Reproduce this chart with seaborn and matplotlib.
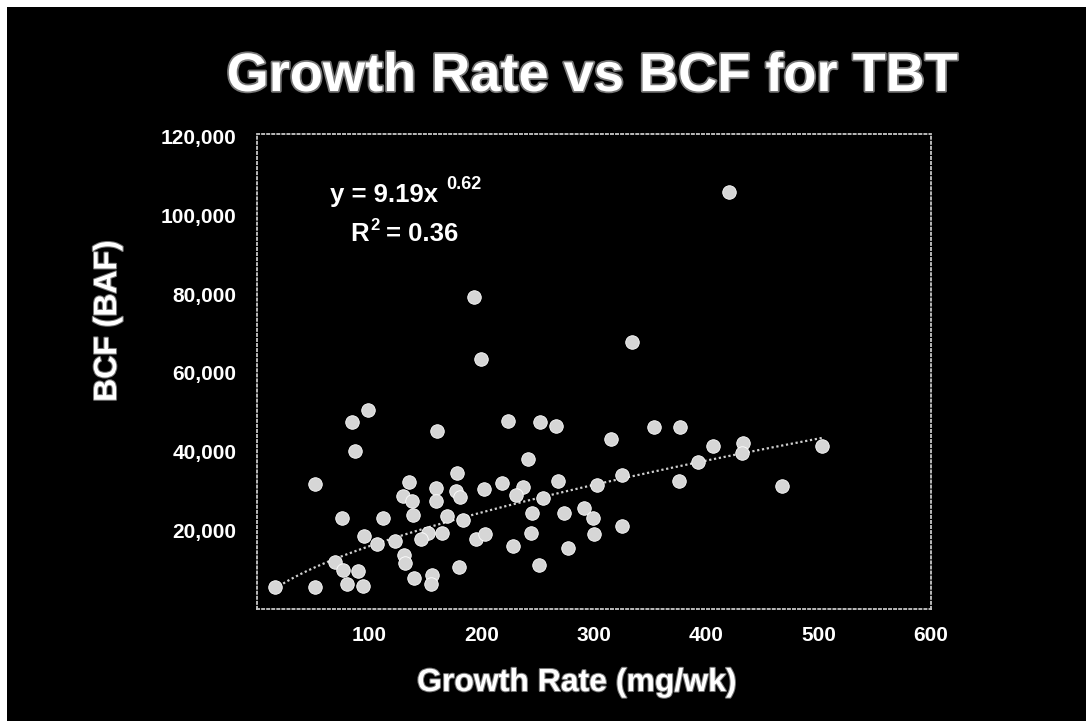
import numpy as np
import pandas as pd
import matplotlib
matplotlib.use("Agg")
import matplotlib.pyplot as plt
import matplotlib.patheffects as pe
from matplotlib.patches import Rectangle
import seaborn as sns

# ---------------- data ----------------
growth_rate = [99, 85, 87, 52, 160, 223, 252, 241, 178, 135,
               159, 177, 181, 130, 138, 159, 202, 218, 237, 231,
               255, 245, 244, 228, 251, 139, 169, 183, 76, 112,
               95, 107, 123, 152, 146, 165, 195, 203, 131, 132,
               69, 77, 90, 180, 140, 156, 155, 16, 52, 80,
               94, 266, 315, 353, 377, 406, 433, 432, 503, 393,
               325, 376, 467, 268, 303, 273, 291, 299, 300, 325,
               277, 193, 199, 420, 334]
bcf = [50600, 47400, 40200, 31700, 45200, 47900, 47400, 38100, 34600, 32400,
       30700, 30000, 28500, 28700, 27400, 27500, 30500, 32100, 30900, 29000,
       28100, 24300, 19400, 16000, 11100, 23900, 23600, 22600, 23200, 23200,
       18600, 16400, 17400, 19400, 17700, 19400, 17700, 19100, 13700, 11600,
       12000, 9900, 9700, 10600, 7800, 8600, 6400, 5700, 5700, 6300,
       5800, 46500, 43200, 46200, 46300, 41500, 42300, 39600, 41500, 37400,
       34100, 32500, 31300, 32600, 31500, 24500, 25600, 23200, 19000, 21200,
       15600, 79200, 63500, 106000, 67900]

x_ticks = [100, 200, 300, 400, 500, 600]
x_tick_labels = ["100", "200", "300", "400", "500", "600"]
y_ticks = [20000, 40000, 60000, 80000, 100000, 120000]
y_tick_labels = ["20,000", "40,000", "60,000", "80,000", "100,000", "120,000"]

# power trend: y = 9.19 x^0.62 (BCF shown in units of 100)
TREND_COEF = 9.19
TREND_EXP = 0.62
UNIT_SCALE = 100

title = "Growth Rate vs BCF for TBT"
x_label = "Growth Rate (mg/wk)"
y_label = "BCF (BAF)"

df = pd.DataFrame({"growth": growth_rate, "bcf": bcf})
tx = np.linspace(min(growth_rate), max(growth_rate), 200)
trend = pd.DataFrame({"growth": tx,
                      "bcf": TREND_COEF * UNIT_SCALE * tx ** TREND_EXP})

# ---------------- style ----------------
sns.set_style("dark", {"axes.facecolor": "black"})
plt.rcParams["font.family"] = ["Liberation Sans", "DejaVu Sans"]
plt.rcParams["font.weight"] = "bold"

W, H = 1086, 721
fig = plt.figure(figsize=(W / 100, H / 100), dpi=100, facecolor="white")
fig.add_artist(Rectangle((7 / W, 0), 1 - 7 / W, 1 - 7 / H,
                         transform=fig.transFigure, facecolor="black",
                         edgecolor="none", zorder=-10))

ax_l, ax_r, ax_t, ax_b = 257, 931, 134, 609
ax = fig.add_axes([ax_l / W, 1 - ax_b / H, (ax_r - ax_l) / W, (ax_b - ax_t) / H])
ax.set_facecolor("black")

sns.lineplot(data=trend, x="growth", y="bcf", ax=ax, color="#cfcfcf",
             linewidth=1.6, linestyle=(0, (1, 1.2)), zorder=2)
sns.scatterplot(data=df, x="growth", y="bcf", ax=ax, s=95,
                color="#d6d6d6", edgecolor="white", linewidth=0.6, zorder=3)

ax.set_xlim(0, 600)
ax.set_ylim(0, 120000 * (ax_b - ax_t) / (ax_b - 136.8))
ax.set_xticks(x_ticks)
ax.set_xticklabels(x_tick_labels)
ax.set_yticks(y_ticks)
ax.set_yticklabels(y_tick_labels)
ax.tick_params(axis="both", length=0, colors="white", labelsize=15)
ax.tick_params(axis="x", pad=12)
ax.tick_params(axis="y", pad=15)
for lab in ax.get_xticklabels() + ax.get_yticklabels():
    lab.set_fontweight("bold")
ax.set_xlabel("")
ax.set_ylabel("")
ax.grid(False)
for sp in ax.spines.values():
    sp.set_visible(True)
    sp.set_color("#c8c8c8")
    sp.set_linewidth(1.3)
    sp.set_linestyle((0, (1.2, 1.6)))


def px(x, y):
    return x / W, 1 - y / H


halo = [pe.withStroke(linewidth=2.5, foreground="#777777")]
fig.text(*px(592, 77), title, ha="center", va="center", color="white",
         fontsize=39, fontweight="bold", path_effects=halo)
fig.text(*px(577, 683), x_label, ha="center", va="center", color="white",
         fontsize=23, fontweight="bold",
         path_effects=[pe.withStroke(linewidth=1.5, foreground="#777777")])
fig.text(*px(108, 321), y_label, ha="center", va="center", color="white",
         fontsize=23, fontweight="bold", rotation=90,
         path_effects=[pe.withStroke(linewidth=1.5, foreground="#777777")])

# trend equation annotation
fig.text(*px(330, 202), "y = 9.19x", ha="left", va="baseline", color="white",
         fontsize=18.5, fontweight="bold")
fig.text(*px(446, 189), "0.62", ha="left", va="baseline", color="white",
         fontsize=13, fontweight="bold")
fig.text(*px(350, 241), "R", ha="left", va="baseline", color="white",
         fontsize=18.5, fontweight="bold")
fig.text(*px(370, 230), "2", ha="left", va="baseline", color="white",
         fontsize=12, fontweight="bold")
fig.text(*px(386, 241), "= 0.36", ha="left", va="baseline", color="white",
         fontsize=18.5, fontweight="bold")

fig.savefig("out.png", dpi=100, facecolor="white")
